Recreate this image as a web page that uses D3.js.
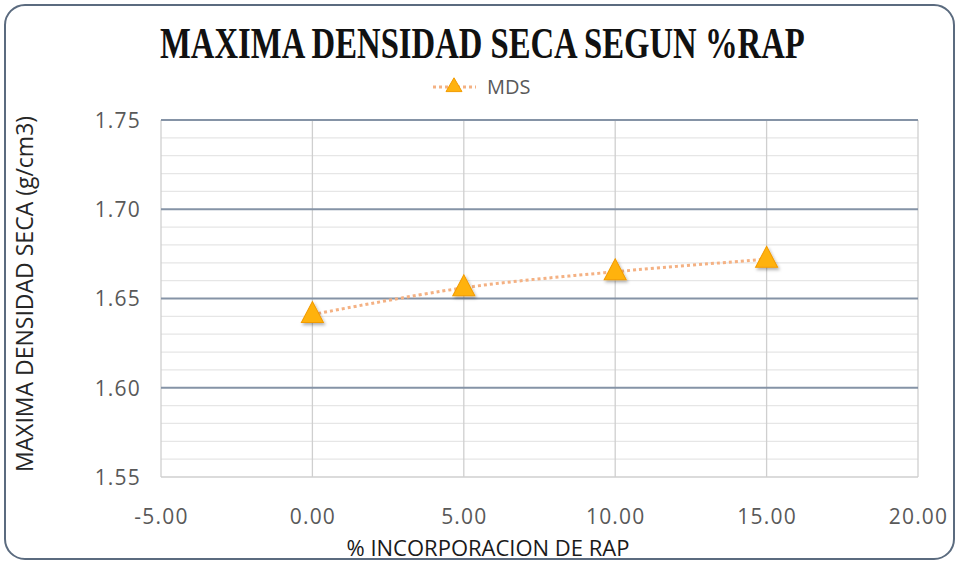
<!DOCTYPE html>
<html>
<head>
<meta charset="UTF-8">
<title>MDS</title>
<script src="https://cdn.jsdelivr.net/npm/d3@7"></script>
<style>
    body { margin: 0; background: #fff; }
    svg { display: block; }
    .tick text { fill: #595959; font: 21px "Open Sans", sans-serif; letter-spacing: 1.2px; }
</style>
</head>
<body>
<svg id="chart" width="959" height="564"></svg>
<script>
    // data
    let rap = [0, 5, 10, 15];
    let mds = [1.641, 1.656, 1.665, 1.672];
    let xTicks = [-5, 0, 5, 10, 15, 20];
    let yTicks = [1.55, 1.60, 1.65, 1.70, 1.75];
    let seriesName = "MDS";

    let W = 959, H = 564;
    let margin = {top: 120, right: 41, bottom: 87, left: 161};
    let width = W - margin.left - margin.right;
    let height = H - margin.top - margin.bottom;

    let fmt = d => d3.format(".2f")(d).replace("\u2212", "-");

    let svg = d3.select("#chart");

    let defs = svg.append("defs");
    let f = defs.append("filter").attr("id", "shadow")
        .attr("x", "-50%").attr("y", "-50%").attr("width", "200%").attr("height", "200%");
    f.append("feDropShadow").attr("dx", 1.5).attr("dy", 2).attr("stdDeviation", 1.5)
        .attr("flood-color", "#000").attr("flood-opacity", 0.3);

    // outer frame
    svg.append("rect")
        .attr("x", 5).attr("y", 5).attr("width", W - 10).attr("height", H - 10)
        .attr("rx", 20).attr("ry", 20)
        .attr("fill", "#fff").attr("stroke", "#5b6b7f").attr("stroke-width", 2);

    let x = d3.scaleLinear().domain([-5, 20]).range([0, width]);
    let y = d3.scaleLinear().domain([1.55, 1.75]).range([height, 0]);

    let g = svg.append("g")
        .attr("transform", "translate(" + margin.left + "," + margin.top + ")");

    // minor horizontal grid (0.01 steps)
    let minor = d3.range(0, 21).map(i => 1.55 + i * 0.01)
        .filter(v => Math.abs(Math.round(v * 20) - v * 20) > 1e-6);
    g.selectAll(".minor").data(minor).enter().append("line")
        .attr("x1", 0).attr("x2", width)
        .attr("y1", d => y(d)).attr("y2", d => y(d))
        .attr("stroke", "#e6e6e6").attr("stroke-width", 1.2);

    // vertical grid
    g.selectAll(".vgrid").data(xTicks).enter().append("line")
        .attr("x1", d => x(d)).attr("x2", d => x(d))
        .attr("y1", 0).attr("y2", height)
        .attr("stroke", "#cfcfcf").attr("stroke-width", 1.3);

    // bottom edge
    g.append("line").attr("x1", 0).attr("x2", width)
        .attr("y1", height).attr("y2", height)
        .attr("stroke", "#cfcfcf").attr("stroke-width", 1.3);

    // major horizontal grid
    g.selectAll(".major").data(yTicks.slice(1)).enter().append("line")
        .attr("x1", 0).attr("x2", width)
        .attr("y1", d => y(d)).attr("y2", d => y(d))
        .attr("stroke", "#8593a6").attr("stroke-width", 2.2);

    // axes (labels only)
    let yAxis = g.append("g")
        .call(d3.axisLeft(y).tickValues(yTicks).tickFormat(fmt).tickSize(0).tickPadding(20));
    yAxis.select(".domain").remove();
    yAxis.selectAll("text").attr("dy", "0.35em");

    let xAxis = g.append("g")
        .attr("transform", "translate(0," + height + ")")
        .call(d3.axisBottom(x).tickValues(xTicks).tickFormat(fmt).tickSize(0).tickPadding(32));
    xAxis.select(".domain").remove();

    // axis titles
    svg.append("text")
        .attr("x", 488).attr("y", 556)
        .attr("text-anchor", "middle")
        .attr("font-family", "Open Sans, sans-serif").attr("font-size", 22)
        .attr("fill", "#1a1a1a")
        .text("% INCORPORACION DE RAP");

    svg.append("text")
        .attr("transform", "translate(33,294) rotate(-90)")
        .attr("text-anchor", "middle")
        .attr("font-family", "Open Sans, sans-serif").attr("font-size", 23)
        .attr("fill", "#262626")
        .text("MAXIMA DENSIDAD SECA (g/cm3)");

    // title, squeezed horizontally to the reference width
    let title = svg.append("text")
        .attr("font-family", "Liberation Serif, serif").attr("font-weight", "bold")
        .attr("font-size", 44).attr("fill", "#111")
        .text("MAXIMA DENSIDAD SECA SEGUN %RAP");
    let tw = title.node().getComputedTextLength();
    title.attr("transform", "translate(160,58) scale(" + (645 / tw) + ",1)");

    // series
    let pts = rap.map((d, i) => [d, mds[i]]);
    let line = d3.line()
        .x(d => x(d[0])).y(d => y(d[1]))
        .curve(d3.curveCatmullRom.alpha(0.5));

    let lineColor = "#f4b183";
    let markFill = "#ffb20f";
    let markStroke = "#f29b00";
    let tri = d3.symbol().type(d3.symbolTriangle).size(210);

    g.append("path").datum(pts)
        .attr("d", line)
        .attr("fill", "none").attr("stroke", lineColor)
        .attr("stroke-width", 3).attr("stroke-dasharray", "3,3");

    g.selectAll(".pt").data(pts).enter().append("path")
        .attr("d", tri)
        .attr("transform", d => "translate(" + x(d[0]) + "," + (y(d[1]) + 1) + ") scale(1,1.1)")
        .attr("fill", markFill).attr("stroke", markStroke).attr("stroke-width", 1)
        .attr("filter", "url(#shadow)");

    // legend
    let lg = svg.append("g").attr("transform", "translate(433,87)");
    lg.append("line").attr("x1", 0).attr("x2", 43).attr("y1", 0).attr("y2", 0)
        .attr("stroke", lineColor).attr("stroke-width", 3).attr("stroke-dasharray", "3,3");
    lg.append("path").attr("d", d3.symbol().type(d3.symbolTriangle).size(110))
        .attr("transform", "translate(21,0)")
        .attr("fill", markFill).attr("stroke", markStroke).attr("stroke-width", 1);
    lg.append("text").attr("x", 54).attr("y", 7)
        .attr("font-family", "Open Sans, sans-serif").attr("font-size", 20)
        .attr("fill", "#595959").text(seriesName);
</script>
</body>
</html>
